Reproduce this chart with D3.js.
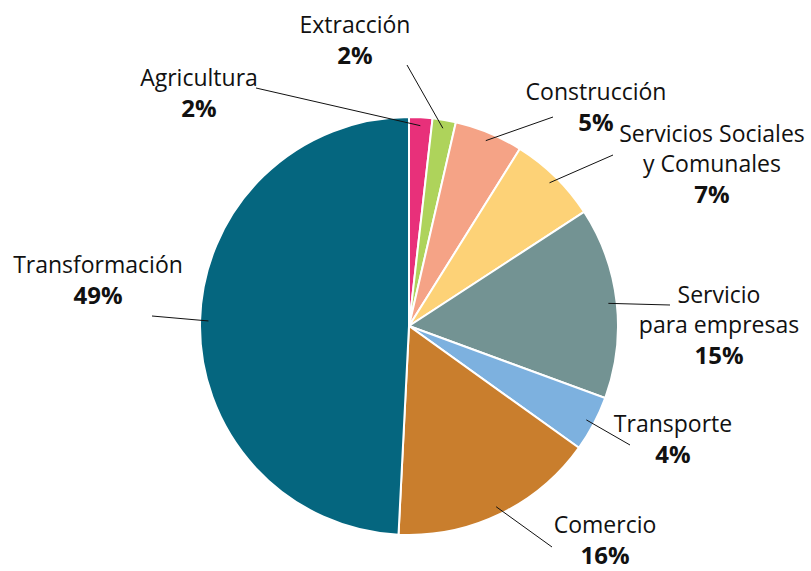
<!DOCTYPE html>
<html>
<head>
<meta charset="utf-8">
<script src="https://cdn.jsdelivr.net/npm/d3@7"></script>
<style>
  body { margin: 0; background: #fff; }
  text { font-family: "Open Sans", Lato, sans-serif; fill: #111; }
</style>
</head>
<body>
<div id="chart"></div>
<script>
// DATA
const sectors = ["Agricultura", "Extracción", "Construcción", "Servicios Sociales y Comunales",
  "Servicio para empresas", "Transporte", "Comercio", "Transformación"];
const shares = [1.8, 1.8, 5.3, 6.9, 14.8, 4.3, 15.9, 49.2];
const pctLabels = ["2%", "2%", "5%", "7%", "15%", "4%", "16%", "49%"];
const nameLines = [["Agricultura"], ["Extracción"], ["Construcción"], ["Servicios Sociales", "y Comunales"],
  ["Servicio", "para empresas"], ["Transporte"], ["Comercio"], ["Transformación"]];
const colors = ["#E8307A", "#AED35B", "#F5A386", "#FDD277", "#739393", "#7DB1DF", "#C97E2D", "#05667F"];

// label layout: text center x, first baseline y, leader end point
const labelLayout = [
  { x: 199, y: 86, lx: 256, ly: 88 },
  { x: 355, y: 33, lx: 407, ly: 65 },
  { x: 596, y: 100, lx: 553, ly: 117 },
  { x: 712, y: 142, lx: 613, ly: 155 },
  { x: 719, y: 303, lx: 670, ly: 305 },
  { x: 673, y: 432, lx: 630, ly: 445 },
  { x: 605, y: 533, lx: 552, ly: 547 },
  { x: 98, y: 273, lx: 152, ly: 316 }
];

const width = 811, height = 571,
  cx = 409, cy = 326, radius = 209,
  lineGap = 30, fontSize = 23;

const svg = d3.select("#chart").append("svg")
  .attr("width", width)
  .attr("height", height);

const pie = d3.pie().sort(null).value(d => d);
const arcs = pie(shares);

const arc = d3.arc().innerRadius(0).outerRadius(radius);
const leaderArc = d3.arc().innerRadius(radius * 0.96).outerRadius(radius * 0.96);

const g = svg.append("g").attr("transform", `translate(${cx},${cy})`);

g.selectAll("path")
  .data(arcs)
  .join("path")
  .attr("d", arc)
  .attr("fill", (d, i) => colors[i])
  .attr("stroke", "#fff")
  .attr("stroke-width", 2);

// leader lines
svg.selectAll("line.leader")
  .data(arcs)
  .join("line")
  .attr("class", "leader")
  .attr("x1", (d, i) => labelLayout[i].lx)
  .attr("y1", (d, i) => labelLayout[i].ly)
  .attr("x2", d => cx + leaderArc.centroid(d)[0])
  .attr("y2", d => cy + leaderArc.centroid(d)[1])
  .attr("stroke", "#111")
  .attr("stroke-width", 1);

// labels
const labels = svg.selectAll("g.label")
  .data(sectors)
  .join("g")
  .attr("class", "label");

labels.each(function(s, i) {
  const lay = labelLayout[i];
  const t = d3.select(this).append("text")
    .attr("text-anchor", "middle")
    .attr("font-size", fontSize);
  nameLines[i].forEach((ln, k) => {
    t.append("tspan").attr("x", lay.x).attr("y", lay.y + k * lineGap).text(ln);
  });
  t.append("tspan")
    .attr("x", lay.x)
    .attr("y", lay.y + nameLines[i].length * lineGap + 1)
    .attr("font-weight", "bold")
    .attr("font-size", 24)
    .text(pctLabels[i]);
});
</script>
</body>
</html>
